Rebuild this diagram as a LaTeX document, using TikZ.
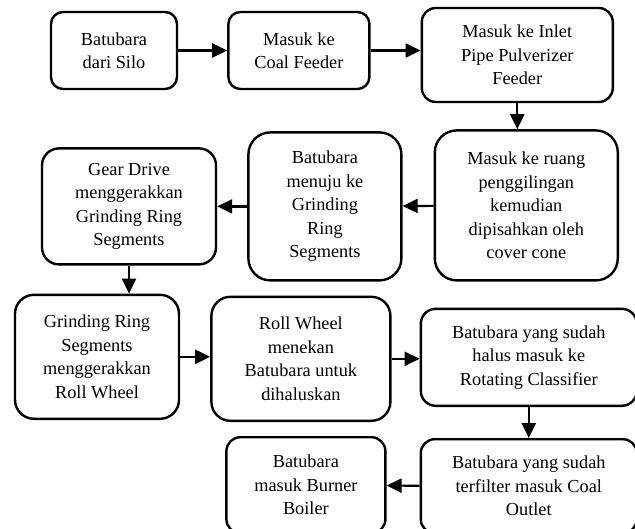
\documentclass[tikz,border=0pt]{standalone}
\usepackage{fontspec}
\setmainfont{Liberation Serif}
\usepackage{tikz}
\usetikzlibrary{arrows.meta,positioning}

\begin{document}
\begin{tikzpicture}[
        node distance=30pt,
        box/.style={draw,line width=2.4pt,rounded corners=14pt,align=center,inner sep=2pt,font=\fontsize{18.3}{23.5}\selectfont},
        arr/.style={-{Triangle[length=15pt,width=14pt]},line width=2.2pt}
      ]
        \useasboundingbox (0,0) rectangle (635pt,-528pt);
        % baris atas
        \node[box,minimum width=126pt,minimum height=77pt,rounded corners=12pt] (silo) at (114pt,-50.5pt) {Batubara\\dari Silo};
        \node[box,minimum width=141pt,minimum height=77pt,rounded corners=12pt,right=49pt of silo] (feeder) {Masuk ke\\Coal Feeder};
        \node[box,minimum width=191pt,minimum height=94pt,right=50pt of feeder,yshift=-4.5pt] (inlet) {Masuk ke Inlet\\Pipe Pulverizer\\Feeder};
        % baris kedua
        \node[box,minimum width=183pt,minimum height=150pt,rounded corners=22pt,below=26pt of inlet,xshift=9pt] (ruang) {Masuk ke ruang\\penggilingan\\kemudian\\dipisahkan oleh\\cover cone};
        \node[box,minimum width=153pt,minimum height=148pt,rounded corners=22pt,left=31pt of ruang,yshift=-1pt] (menuju) {Batubara\\menuju ke\\Grinding\\Ring\\Segments};
        \node[box,minimum width=174pt,minimum height=116pt,rounded corners=17pt,left=30pt of menuju] (gear) {Gear Drive\\menggerakkan\\Grinding Ring\\Segments};
        % baris ketiga
        \node[box,minimum width=164pt,minimum height=124pt,rounded corners=19pt,below=28pt of gear,xshift=-32pt] (grs) {Grinding Ring\\Segments\\menggerakkan\\Roll Wheel};
        \node[box,minimum width=179pt,minimum height=124pt,rounded corners=19pt,right=30pt of grs,yshift=-2pt] (roll) {Roll Wheel\\menekan\\Batubara untuk\\dihaluskan};
        \node[box,minimum width=216pt,minimum height=97pt,rounded corners=15pt,right=28pt of roll,yshift=1.5pt] (halus) {Batubara yang sudah\\halus masuk ke\\Rotating Classifier};
        % baris bawah
        \node[box,minimum width=216pt,minimum height=94pt,below=31pt of halus] (terfilter) {Batubara yang sudah\\terfilter masuk Coal\\Outlet};
        \node[box,minimum width=159pt,minimum height=96pt,left=33pt of terfilter,yshift=1pt] (burner) {Batubara\\masuk Burner\\Boiler};

        \draw[arr] (silo) -- (feeder);
        \draw[arr] (feeder.east) -- (feeder.east -| inlet.west);
        \draw[arr] (inlet.south) -- (inlet.south |- ruang.north);
        \draw[arr] (ruang) -- (menuju);
        \draw[arr] (menuju) -- (gear);
        \draw[arr] (gear.south) -- (gear.south |- grs.north);
        \draw[arr] (grs.east) -- (grs.east -| roll.west);
        \draw[arr] (roll.east) -- (roll.east -| halus.west);
        \draw[arr] (halus) -- (terfilter);
        \draw[arr] (terfilter) -- (burner);
      \end{tikzpicture}
\end{document}
